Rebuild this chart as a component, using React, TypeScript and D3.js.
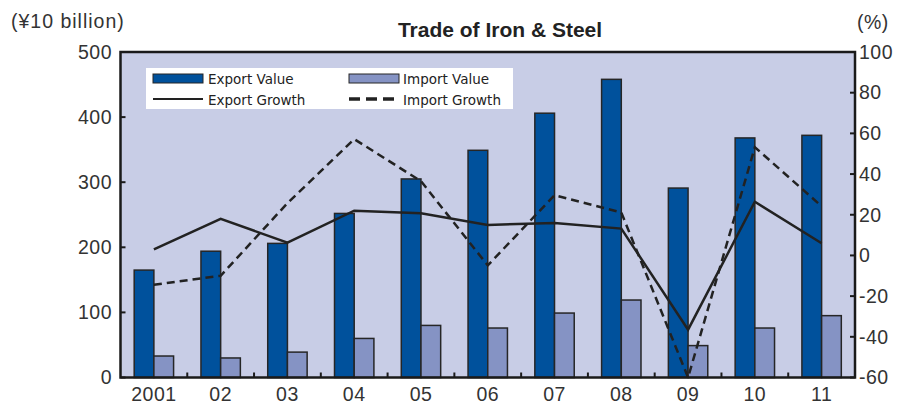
import React from "react";
import * as d3 from "d3";

const years = ["2001", "02", "03", "04", "05", "06", "07", "08", "09", "10", "11"];
const exportValue = [165, 194, 206, 252, 305, 349, 406, 458, 291, 368, 372];
const importValue = [33, 30, 39, 60, 80, 76, 99, 119, 49, 76, 95];
const exportGrowth = [3, 18, 6.3, 22, 20.7, 15, 16, 13.2, -36.5, 26.4, 6];
const importGrowth = [-14.4, -10, 25.7, 57.2, 36.5, -4.9, 29.6, 21.1, -60, 53.2, 24.2];
const leftTicks = [0, 100, 200, 300, 400, 500];
const rightTicks = [-60, -40, -20, 0, 20, 40, 60, 80, 100];

const W = 897, H = 406;
const L = 120.5, R = 855, T = 52, B = 377.5;

export default function App() {
  const x = d3.scaleBand<string>().domain(years).range([L, R]).padding(0);
  const yL = d3.scaleLinear().domain([0, 500]).range([B, T]);
  const yR = d3.scaleLinear().domain([-60, 100]).range([B, T]);
  const bw = x.bandwidth();
  const barW = bw * 0.295;
  const cx = (d: string) => (x(d) as number) + bw / 2;
  const line = d3
    .line<number>()
    .x((_, i) => cx(years[i]))
    .y((v) => yR(v));
  const tickFont = "'Liberation Sans', Arial, sans-serif";
  const tickColor = "#333";
  const fs = 19.5;
  const ls = 0.5;
  const legFont = "'DejaVu Sans', sans-serif";

  return (
    <svg width={W} height={H} style={{ position: "absolute", left: 0, top: 0, background: "#fff" }}>
      <rect x={L} y={T} width={R - L} height={B - T} fill="#c8cde6" />
      {years.map((y, i) => (
        <g key={y}>
          <rect
            x={cx(y) - barW}
            y={yL(exportValue[i])}
            width={barW}
            height={B - yL(exportValue[i])}
            fill="#00519c"
            stroke="#262626"
            strokeWidth={1.5}
          />
          <rect
            x={cx(y)}
            y={yL(importValue[i])}
            width={barW}
            height={B - yL(importValue[i])}
            fill="#8593c4"
            stroke="#262626"
            strokeWidth={1.5}
          />
        </g>
      ))}
      <path d={line(exportGrowth) || ""} fill="none" stroke="#222" strokeWidth={2.5} />
      <path d={line(importGrowth) || ""} fill="none" stroke="#222" strokeWidth={2.5} strokeDasharray="8,5" />
      <rect x={L} y={T} width={R - L} height={B - T} fill="none" stroke="#1a1a1a" strokeWidth={2.5} />
      {leftTicks.map((t) => (
        <g key={"l" + t}>
          <line x1={L} x2={L + 5} y1={yL(t)} y2={yL(t)} stroke="#1a1a1a" strokeWidth={2} />
          <text x={112} y={yL(t) + 6.8} textAnchor="end" fontFamily={tickFont} fontSize={fs} letterSpacing={ls} fill={tickColor}>
            {t}
          </text>
        </g>
      ))}
      {rightTicks.map((t) => (
        <g key={"r" + t}>
          <line x1={R - 5} x2={R} y1={yR(t)} y2={yR(t)} stroke="#1a1a1a" strokeWidth={2} />
          <text x={859} y={yR(t) + 6.8} textAnchor="start" fontFamily={tickFont} fontSize={fs} letterSpacing={ls} fill={tickColor}>
            {t}
          </text>
        </g>
      ))}
      {years.slice(1).map((y) => (
        <line key={"b" + y} x1={x(y)} x2={x(y)} y1={B} y2={B - 5} stroke="#1a1a1a" strokeWidth={2} />
      ))}
      {years.map((y) => (
        <text key={"t" + y} x={cx(y)} y={401} textAnchor="middle" fontFamily={tickFont} fontSize={fs} letterSpacing={ls} fill={tickColor}>
          {y}
        </text>
      ))}
      <text x={11} y={28} fontFamily={tickFont} fontSize={fs} letterSpacing={1} fill={tickColor}>
        (¥10 billion)
      </text>
      <text x={857} y={29} fontFamily={tickFont} fontSize={fs} letterSpacing={ls} fill={tickColor}>
        (%)
      </text>
      <text x={500} y={37} textAnchor="middle" fontFamily={tickFont} fontWeight="bold" fontSize={21} fill="#222">
        Trade of Iron &amp; Steel
      </text>
      <rect x={146} y={68} width={367} height={41} fill="#fff" />
      <rect x={153} y={74} width={50} height={9} fill="#00519c" stroke="#262626" strokeWidth={1} />
      <text x={208} y={83.5} fontFamily={legFont} fontSize={13.5} fill="#222">
        Export Value
      </text>
      <rect x={349} y={74} width={50} height={9} fill="#8593c4" stroke="#262626" strokeWidth={1} />
      <text x={403} y={83.5} fontFamily={legFont} fontSize={13.5} fill="#222">
        Import Value
      </text>
      <line x1={153} x2={203} y1={99} y2={99} stroke="#222" strokeWidth={2} />
      <text x={208} y={104.5} fontFamily={legFont} fontSize={13.5} fill="#222">
        Export Growth
      </text>
      <line x1={349} x2={399} y1={99} y2={99} stroke="#222" strokeWidth={3.5} strokeDasharray="11,6" />
      <text x={403} y={104.5} fontFamily={legFont} fontSize={13.5} fill="#222">
        Import Growth
      </text>
    </svg>
  );
}
